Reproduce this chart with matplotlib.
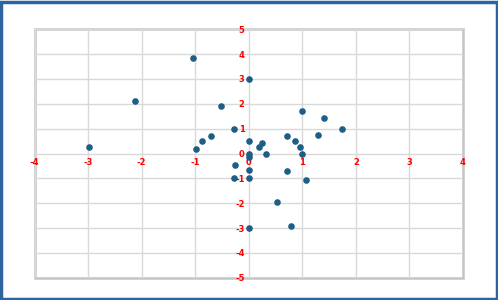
import matplotlib
matplotlib.use("Agg")
import matplotlib.pyplot as plt
from matplotlib.patches import Rectangle

x_vals = [-1.04, 0.0, -2.12, -0.52, -0.27, 0.0, -0.71, -0.88, -0.99, -2.99,
          1.0, 1.41, 1.74, 1.30, 0.71, 0.86, 0.24, 0.19, 0.96,
          0.33, 0.99, 0.71, 1.06, 0.52, 0.78, 0.0, 0.0, 0.0, 0.0, 0.0,
          -0.26, -0.27]
y_vals = [3.86, 3.0, 2.13, 1.93, 0.98, 0.49, 0.71, 0.49, 0.17, 0.25,
          1.73, 1.42, 1.0, 0.75, 0.71, 0.49, 0.44, 0.26, 0.26,
          0.0, 0.0, -0.72, -1.07, -1.94, -2.91, -3.0, -1.0, -0.68, 0.0, -0.14,
          -0.45, -0.97]
x_ticks = [-4, -3, -2, -1, 0, 1, 2, 3, 4]
y_ticks = [-5, -4, -3, -2, -1, 0, 1, 2, 3, 4, 5]

fig = plt.figure(figsize=(4.98, 3.0), dpi=100)
fig.patch.set_facecolor("white")
fig.patches.append(Rectangle((0.003, 0.005), 0.994, 0.99, transform=fig.transFigure,
                             fill=False, edgecolor="#2d64a0", linewidth=2.5))

ax = fig.add_axes([0.0693, 0.0743, 0.8604, 0.828])
ax.set_xlim(-4, 4)
ax.set_ylim(-5, 5)
ax.set_xticks(x_ticks)
ax.set_yticks(y_ticks)
ax.grid(True, color="#d9d9d9", linewidth=1.0)
ax.set_axisbelow(True)

for side in ["left", "bottom"]:
    ax.spines[side].set_position("zero")
for side in ["left", "bottom", "right", "top"]:
    ax.spines[side].set_visible(False)
ax.add_patch(Rectangle((0, 0), 1, 1, transform=ax.transAxes, fill=False,
                       edgecolor="#c4c4c4", linewidth=1.8, zorder=0.3, clip_on=False))

ax.tick_params(axis="both", length=0, labelsize=6, labelcolor="red", pad=3)
ax.set_xticklabels([str(t) for t in x_ticks], fontweight="bold")
ax.set_yticklabels([str(t) for t in y_ticks], fontweight="bold")
for lbl in ax.get_xticklabels() + ax.get_yticklabels():
    lbl.set_clip_on(False)

ax.scatter(x_vals, y_vals, s=14, color="#1b5e86", zorder=3, clip_on=False)

fig.savefig("out.png", dpi=100)
